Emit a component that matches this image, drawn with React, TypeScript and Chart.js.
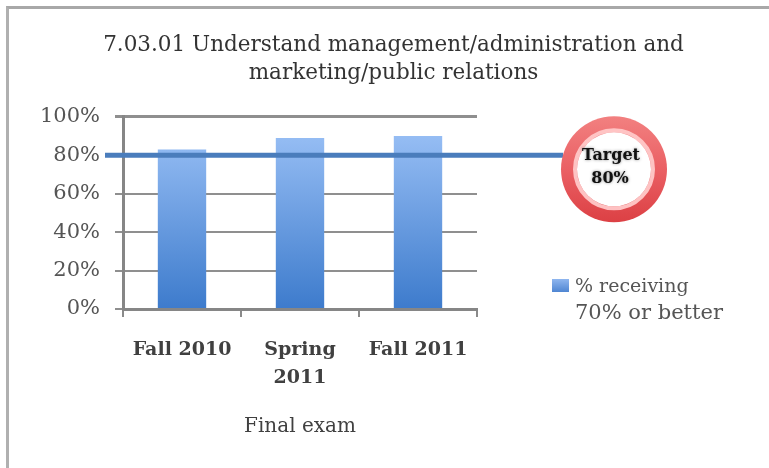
import React, { useEffect, useRef } from "react";
import { Chart, registerables } from "chart.js";

Chart.register(...registerables);

const TITLE_LINES = ["7.03.01 Understand management/administration and", "marketing/public relations"];
const CATEGORIES: (string | string[])[] = ["Fall 2010", ["Spring", "2011"], "Fall 2011"];
const SERIES_LABEL = "% receiving 70% or better";
const LEGEND_LINES = ["% receiving", "70% or better"];
const VALUES = [83, 89, 90];
const Y_TICKS = [0, 20, 40, 60, 80, 100];
const TARGET = 80;
const TARGET_LINES = ["Target", "80%"];
const X_TITLE = "Final exam";

const SERIF = "'DejaVu Serif', 'Liberation Serif', serif";

const decorPlugin = {
  id: "decor",
  afterDatasetsDraw(chart: any) {
    const { ctx, chartArea, scales } = chart;
    const y = scales.y.getPixelForValue(TARGET);
    const cx = 614;
    const cy = y + 14;
    const rOut = 53;
    const rIn = 37;
    ctx.save();
    // target line
    ctx.strokeStyle = "#4a7dbc";
    ctx.lineWidth = 5;
    ctx.beginPath();
    ctx.moveTo(chartArea.left - 18, y);
    ctx.lineTo(cx - rOut + 2, y);
    ctx.stroke();

    // ring
    const g = ctx.createLinearGradient(0, cy - rOut, 0, cy + rOut);
    g.addColorStop(0, "#f28080");
    g.addColorStop(0.5, "#ea6064");
    g.addColorStop(1, "#dc4044");
    ctx.fillStyle = g;
    ctx.beginPath();
    ctx.arc(cx, cy, rOut, 0, Math.PI * 2);
    ctx.fill();
    // inner highlight edge
    ctx.strokeStyle = "rgba(255,200,200,0.95)";
    ctx.lineWidth = 4;
    ctx.beginPath();
    ctx.arc(cx, cy, rIn + 2, 0, Math.PI * 2);
    ctx.stroke();
    ctx.fillStyle = "#ffffff";
    ctx.beginPath();
    ctx.arc(cx, cy, rIn, 0, Math.PI * 2);
    ctx.fill();

    ctx.fillStyle = "#111";
    ctx.font = "bold 16px " + SERIF;
    ctx.textAlign = "center";
    ctx.textBaseline = "middle";
    ctx.shadowColor = "rgba(0,0,0,0.45)";
    ctx.shadowBlur = 3;
    ctx.fillText(TARGET_LINES[0], cx - 3, cy - 13);
    ctx.fillText(TARGET_LINES[1], cx - 4, cy + 10);
    ctx.restore();

    // legend
    ctx.save();
    const bx = 552;
    const by = 279;
    const lg = ctx.createLinearGradient(0, by, 0, by + 14);
    lg.addColorStop(0, "#8fb6ef");
    lg.addColorStop(1, "#4a82d0");
    ctx.fillStyle = lg;
    ctx.fillRect(bx, by, 17, 13);
    ctx.fillStyle = "#555";
    ctx.textAlign = "left";
    ctx.textBaseline = "middle";
    ctx.font = "19px " + SERIF;
    ctx.fillText(LEGEND_LINES[0], 575, 287);
    ctx.font = "21px " + SERIF;
    ctx.fillText(LEGEND_LINES[1], 575, 314);
    ctx.restore();
  },
};

export default function App() {
  const ref = useRef<HTMLCanvasElement>(null);
  useEffect(() => {
    const canvas = ref.current!;
    const chart = new Chart(canvas, {
      type: "bar",
      data: {
        labels: CATEGORIES,
        datasets: [
          {
            label: SERIES_LABEL,
            data: VALUES,
            backgroundColor: (c: any) => {
              const area = c.chart.chartArea;
              if (!area) return "#6a9be0";
              const g = c.chart.ctx.createLinearGradient(0, area.top, 0, area.bottom);
              g.addColorStop(0, "#9fc4f8");
              g.addColorStop(1, "#3d7bcc");
              return g;
            },
            borderWidth: 0,
            categoryPercentage: 1,
            barPercentage: 0.41,
          },
        ],
      },
      options: {
        animation: false,
        responsive: false,
        maintainAspectRatio: false,
        layout: { padding: { top: 24, left: 18, right: 0, bottom: 29 } },
        plugins: {
          legend: { display: false },
          tooltip: { enabled: false },
          title: {
            display: true,
            text: TITLE_LINES,
            color: "#333",
            font: { family: SERIF, size: 21.5, weight: "normal", lineHeight: 1.3 },
            padding: { top: 7, bottom: 30 },
          },
        },
        scales: {
          x: {
            grid: {
              display: true,
              drawOnChartArea: false,
              drawTicks: true,
              tickLength: 8,
              color: "#8a8a8a",
              lineWidth: 2,
              offset: true,
            },
            border: { color: "#868686", width: 3 },
            ticks: {
              color: "#404040",
              padding: 19,
              font: { family: SERIF, size: 19, weight: "bold", lineHeight: 1.47 },
              maxRotation: 0,
              autoSkip: false,
            },
            title: {
              display: true,
              text: X_TITLE,
              color: "#404040",
              font: { family: SERIF, size: 20, weight: "normal", lineHeight: 1.2 },
              padding: { top: 0, bottom: 0 },
            },
            afterFit: (s: any) => {
              s.height = 130;
            },
          },
          y: {
            min: 0,
            max: 100,
            afterBuildTicks: (s: any) => {
              s.ticks = Y_TICKS.map((v) => ({ value: v }));
            },
            grid: {
              color: "#8f8f8f",
              lineWidth: (c: any) => (c.tick && c.tick.value === 100 ? 3 : 2),
              tickLength: 8,
              drawTicks: true,
            },
            border: { color: "#868686", width: 3 },
            ticks: {
              color: "#555",
              padding: 15,
              font: { family: SERIF, size: 21 },
              callback: (v: any) => v + "%",
            },
            afterFit: (s: any) => {
              s.width = 105;
            },
          },
          side: {
            type: "linear",
            position: "right",
            display: true,
            grid: { display: false, drawTicks: false },
            border: { display: false },
            ticks: { display: false },
            afterFit: (s: any) => {
              s.width = 292;
            },
          },
        },
      },
      plugins: [decorPlugin],
    } as any);
    return () => chart.destroy();
  }, []);

  return (
    <div
      style={{
        position: "fixed",
        left: 0,
        top: 0,
        width: 769,
        height: 468,
        background: "#fff",
        overflow: "hidden",
      }}
    >
      <div
        style={{
          position: "absolute",
          left: 6,
          top: 6,
          right: -10,
          bottom: -10,
          borderLeft: "3px solid #b0b0b0",
          borderTop: "3px solid #a8a8a8",
        }}
      />
      <canvas ref={ref} width={769} height={468} style={{ position: "absolute", left: 0, top: 0 }} />
    </div>
  );
}
